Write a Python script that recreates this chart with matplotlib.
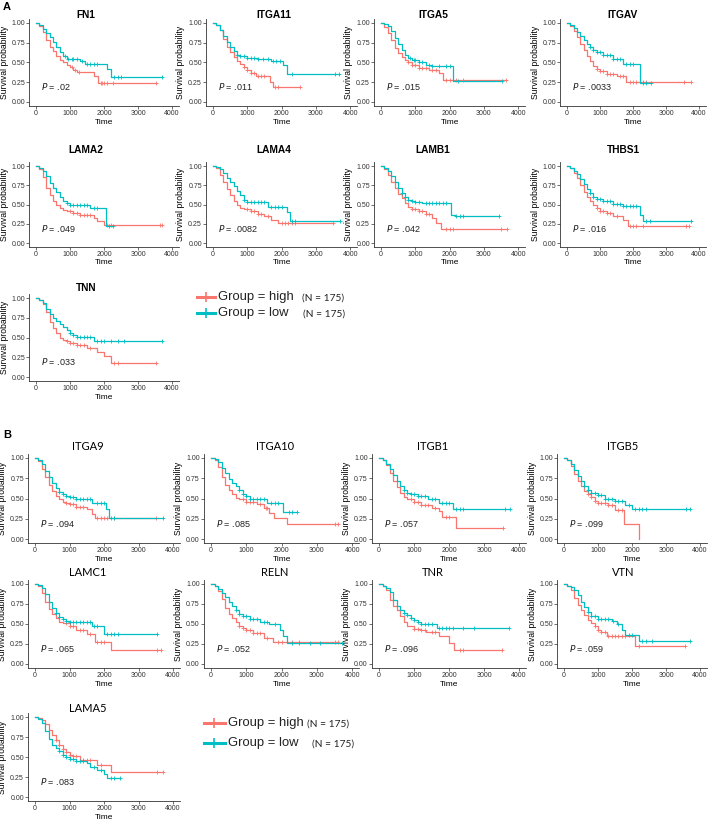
import matplotlib
matplotlib.use('Agg')
import matplotlib.pyplot as plt

# Kaplan-Meier step points (time, survival) and censor times
FN1_HIGH = [(0, 1.0), (100, 0.96), (200, 0.88), (300, 0.79), (400, 0.70), (500, 0.64), (600, 0.58), (700, 0.53),
            (800, 0.50), (900, 0.47), (1000, 0.44), (1100, 0.41), (1200, 0.38), (1700, 0.33), (1820, 0.235)]
FN1_HIGH_CENS = [1050, 1150, 1250, 1900, 1950, 2000, 2100, 2250, 3520]
FN1_LOW = [(0, 1.0), (100, 0.97), (200, 0.92), (300, 0.87), (400, 0.82), (500, 0.76), (600, 0.69), (700, 0.63),
           (800, 0.58), (900, 0.55), (1000, 0.54), (1300, 0.52), (1450, 0.48), (2080, 0.42), (2200, 0.32)]
FN1_LOW_CENS = [850, 950, 1050, 1100, 1200, 1350, 1500, 1600, 1700, 1800, 2300, 2400, 2500, 3700]

ITGA11_HIGH = [(0, 1.0), (100, 0.97), (200, 0.91), (300, 0.80), (400, 0.70), (500, 0.63), (600, 0.57), (700, 0.52),
               (800, 0.48), (900, 0.44), (1000, 0.41), (1100, 0.37), (1250, 0.33), (1650, 0.25), (1750, 0.19)]
ITGA11_HIGH_CENS = [900, 1000, 1100, 1200, 1300, 1400, 1500, 1800, 1900, 2550]
ITGA11_LOW = [(0, 1.0), (100, 0.97), (200, 0.91), (300, 0.83), (400, 0.76), (500, 0.70), (600, 0.64), (700, 0.60),
              (800, 0.58), (1000, 0.56), (1300, 0.54), (1700, 0.52), (2050, 0.47), (2150, 0.35)]
ITGA11_LOW_CENS = [700, 800, 900, 1000, 1100, 1200, 1300, 1450, 1600, 1750, 1850, 1950, 2300, 3550, 3680]

ITGA5_HIGH = [(0, 1.0), (100, 0.95), (200, 0.87), (300, 0.78), (400, 0.68), (500, 0.62), (600, 0.57), (700, 0.53),
              (800, 0.50), (900, 0.47), (1100, 0.43), (1400, 0.41), (1700, 0.37), (1800, 0.28)]
ITGA5_HIGH_CENS = [800, 900, 1000, 1100, 1200, 1300, 1500, 1600, 1900, 2000, 2200, 2400, 3650]
ITGA5_LOW = [(0, 1.0), (100, 0.99), (200, 0.96), (300, 0.90), (400, 0.81), (500, 0.73), (600, 0.66), (700, 0.60),
             (800, 0.56), (900, 0.53), (1100, 0.50), (1300, 0.47), (1500, 0.45), (2100, 0.27)]
ITGA5_LOW_CENS = [850, 950, 1000, 1100, 1200, 1400, 1500, 1700, 1900, 2000, 2250, 3530]

ITGAV_HIGH = [(0, 1.0), (100, 0.96), (200, 0.90), (300, 0.82), (400, 0.74), (500, 0.66), (600, 0.58), (700, 0.52),
              (800, 0.46), (900, 0.42), (1000, 0.39), (1200, 0.36), (1500, 0.33), (1800, 0.25)]
ITGAV_HIGH_CENS = [900, 1000, 1100, 1200, 1300, 1400, 1600, 1700, 1900, 2000, 2100, 2300, 2400, 3550, 3750]
ITGAV_LOW = [(0, 1.0), (100, 0.98), (200, 0.94), (300, 0.89), (400, 0.84), (500, 0.78), (600, 0.73), (700, 0.69),
             (800, 0.66), (900, 0.63), (1100, 0.59), (1400, 0.55), (1700, 0.48), (2200, 0.245)]
ITGAV_LOW_CENS = [700, 800, 900, 1000, 1100, 1200, 1300, 1400, 1500, 1600, 1800, 1900, 2000, 2300, 2400, 2550]

LAMA2_HIGH = [(0, 1.0), (100, 0.96), (200, 0.86), (300, 0.72), (400, 0.62), (500, 0.55), (600, 0.50), (700, 0.45),
              (800, 0.43), (900, 0.41), (1100, 0.39), (1300, 0.36), (1700, 0.33), (1800, 0.28), (2000, 0.23)]
LAMA2_HIGH_CENS = [1000, 1100, 1200, 1300, 1400, 1500, 1600, 2100, 2200, 3650, 3700]
LAMA2_LOW = [(0, 1.0), (100, 0.98), (200, 0.94), (300, 0.87), (400, 0.78), (500, 0.72), (600, 0.66), (700, 0.60),
             (800, 0.55), (900, 0.52), (1000, 0.50), (1600, 0.46), (2050, 0.22)]
LAMA2_LOW_CENS = [900, 1000, 1100, 1200, 1300, 1400, 1500, 1700, 1800, 2150, 2250]

LAMA4_HIGH = [(0, 1.0), (100, 0.97), (200, 0.88), (300, 0.79), (400, 0.70), (500, 0.62), (600, 0.55), (700, 0.50),
              (800, 0.46), (900, 0.44), (1100, 0.41), (1300, 0.38), (1500, 0.35), (1700, 0.30), (1900, 0.26)]
LAMA4_HIGH_CENS = [1000, 1100, 1200, 1300, 1400, 1600, 2000, 2100, 2200, 2300, 2400, 3500]
LAMA4_LOW = [(0, 1.0), (100, 0.99), (200, 0.96), (300, 0.91), (400, 0.85), (500, 0.79), (600, 0.74), (700, 0.68),
             (800, 0.62), (900, 0.56), (1000, 0.53), (1600, 0.47), (2150, 0.40), (2250, 0.28)]
LAMA4_LOW_CENS = [900, 1000, 1100, 1200, 1300, 1400, 1500, 1700, 1800, 1900, 2000, 2300, 2400, 3700]

LAMB1_HIGH = [(0, 1.0), (100, 0.96), (200, 0.88), (300, 0.79), (400, 0.71), (500, 0.64), (600, 0.58), (700, 0.52),
              (800, 0.47), (900, 0.44), (1100, 0.41), (1300, 0.38), (1500, 0.32), (1600, 0.26), (1750, 0.18)]
LAMB1_HIGH_CENS = [900, 1000, 1100, 1200, 1300, 1400, 1900, 2000, 2100, 3500, 3670]
LAMB1_LOW = [(0, 1.0), (100, 0.98), (200, 0.94), (300, 0.87), (400, 0.79), (500, 0.72), (600, 0.65), (700, 0.60),
             (800, 0.56), (900, 0.54), (1000, 0.53), (1200, 0.515), (2050, 0.37), (2150, 0.35)]
LAMB1_LOW_CENS = [600, 700, 800, 900, 1000, 1100, 1300, 1400, 1500, 1600, 1700, 1800, 1900, 2200, 2300, 2400, 3450]

THBS1_HIGH = [(0, 1.0), (100, 0.97), (200, 0.91), (300, 0.84), (400, 0.75), (500, 0.66), (600, 0.60), (700, 0.55),
              (800, 0.50), (900, 0.45), (1000, 0.42), (1200, 0.39), (1400, 0.35), (1700, 0.30), (1850, 0.22)]
THBS1_HIGH_CENS = [900, 1000, 1100, 1200, 1300, 1500, 1900, 2000, 2100, 2300, 3600, 3700]
THBS1_LOW = [(0, 1.0), (100, 0.98), (200, 0.94), (300, 0.89), (400, 0.83), (500, 0.76), (600, 0.70), (700, 0.65),
             (800, 0.60), (900, 0.57), (1100, 0.54), (1400, 0.51), (1700, 0.48), (2200, 0.36), (2300, 0.29)]
THBS1_LOW_CENS = [700, 800, 900, 1000, 1100, 1200, 1300, 1400, 1500, 1600, 1700, 1800, 1900, 2000, 2100, 2400,
                  2500, 3750]

TNN_HIGH = [(0, 1.0), (100, 0.97), (200, 0.93), (300, 0.82), (400, 0.70), (500, 0.62), (600, 0.56), (700, 0.50),
            (800, 0.47), (900, 0.45), (1000, 0.43), (1200, 0.41), (1500, 0.37), (1800, 0.32), (2000, 0.27),
            (2200, 0.18)]
TNN_HIGH_CENS = [900, 1000, 1100, 1200, 1300, 1400, 1600, 2300, 2400, 3520]
TNN_LOW = [(0, 1.0), (100, 0.98), (200, 0.94), (300, 0.86), (400, 0.80), (500, 0.75), (600, 0.71), (700, 0.67),
           (800, 0.63), (900, 0.60), (1000, 0.56), (1100, 0.53), (1200, 0.51), (1700, 0.45)]
TNN_LOW_CENS = [1000, 1100, 1200, 1300, 1400, 1500, 1600, 1800, 1900, 2000, 2200, 2400, 2600, 3700]

ITGA9_HIGH = [(0, 1.0), (100, 0.96), (200, 0.87), (300, 0.77), (400, 0.67), (500, 0.59), (600, 0.53), (700, 0.49),
              (800, 0.46), (900, 0.44), (1000, 0.43), (1200, 0.40), (1500, 0.37), (1650, 0.31), (1750, 0.26)]
ITGA9_HIGH_CENS = [900, 1000, 1100, 1200, 1300, 1400, 1800, 1900, 2000, 2100, 2300, 3500]
ITGA9_LOW = [(0, 1.0), (100, 0.98), (200, 0.92), (300, 0.84), (400, 0.77), (500, 0.69), (600, 0.63), (700, 0.58),
             (800, 0.55), (900, 0.53), (1000, 0.52), (1200, 0.49), (1650, 0.44), (2050, 0.37), (2150, 0.26)]
ITGA9_LOW_CENS = [700, 800, 900, 1000, 1100, 1200, 1300, 1400, 1500, 1600, 1800, 1900, 2000, 2200, 2300, 3720]

ITGA10_HIGH = [(0, 1.0), (100, 0.97), (200, 0.89), (300, 0.77), (400, 0.67), (500, 0.60), (600, 0.55), (700, 0.51),
               (800, 0.49), (1000, 0.46), (1300, 0.43), (1500, 0.38), (1650, 0.32), (1780, 0.26), (2150, 0.19)]
ITGA10_HIGH_CENS = [900, 1000, 1100, 1200, 1400, 1550, 1600, 3500, 3600]
ITGA10_LOW = [(0, 1.0), (100, 0.99), (200, 0.95), (300, 0.88), (400, 0.81), (500, 0.74), (600, 0.69), (700, 0.65),
              (800, 0.60), (900, 0.56), (1000, 0.53), (1100, 0.50), (1600, 0.45), (2050, 0.33)]
ITGA10_LOW_CENS = [800, 900, 1000, 1100, 1200, 1300, 1400, 1500, 1700, 1800, 1900, 2200, 2300, 2450]

ITGB1_HIGH = [(0, 1.0), (100, 0.98), (200, 0.91), (300, 0.82), (400, 0.72), (500, 0.64), (600, 0.57), (700, 0.52),
              (800, 0.49), (1000, 0.46), (1200, 0.42), (1500, 0.38), (1700, 0.34), (1800, 0.27), (2200, 0.13)]
ITGB1_HIGH_CENS = [900, 1000, 1100, 1200, 1300, 1400, 1600, 1900, 2000, 3530]
ITGB1_LOW = [(0, 1.0), (100, 0.98), (200, 0.93), (300, 0.86), (400, 0.79), (500, 0.72), (600, 0.66), (700, 0.61),
             (800, 0.57), (900, 0.55), (1100, 0.53), (1400, 0.49), (1700, 0.44), (2100, 0.37)]
ITGB1_LOW_CENS = [700, 800, 900, 1000, 1100, 1200, 1300, 1500, 1600, 1800, 1900, 2000, 2200, 2300, 2400, 3600, 3730]

ITGB5_HIGH = [(0, 1.0), (100, 0.98), (200, 0.90), (300, 0.80), (400, 0.72), (500, 0.66), (600, 0.59), (700, 0.55),
              (800, 0.52), (900, 0.47), (1000, 0.45), (1300, 0.42), (1500, 0.36), (1750, 0.18), (2200, 0.0)]
ITGB5_HIGH_CENS = [700, 800, 900, 1000, 1100, 1200, 1300, 1400, 1600, 1700]
ITGB5_LOW = [(0, 1.0), (100, 0.97), (200, 0.92), (300, 0.85), (400, 0.78), (500, 0.71), (600, 0.65), (700, 0.60),
             (800, 0.57), (1000, 0.54), (1200, 0.50), (1500, 0.47), (1800, 0.42), (2000, 0.37)]
ITGB5_LOW_CENS = [600, 700, 800, 900, 1000, 1100, 1200, 1300, 1400, 1500, 1600, 1700, 1900, 2100, 2200, 2300,
                  2400, 3600, 3720]

LAMC1_HIGH = [(0, 1.0), (100, 0.97), (200, 0.89), (300, 0.78), (400, 0.69), (500, 0.62), (600, 0.57), (700, 0.53),
              (800, 0.51), (1000, 0.47), (1200, 0.42), (1500, 0.37), (1750, 0.28), (2200, 0.18)]
LAMC1_HIGH_CENS = [900, 1000, 1100, 1300, 1400, 1600, 1800, 1900, 2000, 3550, 3650]
LAMC1_LOW = [(0, 1.0), (100, 0.99), (200, 0.95), (300, 0.88), (400, 0.78), (500, 0.70), (600, 0.64), (700, 0.59),
             (800, 0.56), (900, 0.54), (1000, 0.52), (1650, 0.47), (2000, 0.37)]
LAMC1_LOW_CENS = [600, 700, 800, 900, 1000, 1100, 1200, 1300, 1400, 1500, 1600, 1700, 1800, 2100, 2200, 2300,
                  2400, 3550]

RELN_HIGH = [(0, 1.0), (100, 0.97), (200, 0.91), (300, 0.81), (400, 0.70), (500, 0.63), (600, 0.57), (700, 0.52),
             (800, 0.48), (900, 0.45), (1000, 0.42), (1200, 0.39), (1500, 0.33), (1750, 0.275)]
RELN_HIGH_CENS = [800, 900, 1000, 1100, 1200, 1300, 1400, 1600, 1900, 2000, 2300, 2500, 3500, 3600]
RELN_LOW = [(0, 1.0), (100, 0.98), (200, 0.94), (300, 0.89), (400, 0.84), (500, 0.78), (600, 0.72), (700, 0.67),
            (800, 0.63), (900, 0.60), (1100, 0.56), (1400, 0.53), (1650, 0.50), (1950, 0.43), (2050, 0.35),
            (2150, 0.26)]
RELN_LOW_CENS = [700, 800, 900, 1000, 1100, 1200, 1300, 1500, 1600, 1800, 2300, 2500, 2800, 3100, 3720]

TNR_HIGH = [(0, 1.0), (100, 0.98), (200, 0.92), (300, 0.80), (400, 0.72), (500, 0.67), (600, 0.60), (700, 0.53),
            (800, 0.48), (1000, 0.44), (1200, 0.43), (1350, 0.40), (1700, 0.35), (2000, 0.26), (2150, 0.17)]
TNR_HIGH_CENS = [1000, 1100, 1200, 1300, 1500, 1600, 2300, 2400, 3520]
TNR_LOW = [(0, 1.0), (100, 0.98), (200, 0.95), (300, 0.90), (400, 0.80), (500, 0.72), (600, 0.68), (700, 0.64),
           (800, 0.61), (900, 0.58), (1000, 0.55), (1100, 0.52), (1200, 0.50), (1650, 0.45)]
TNR_LOW_CENS = [700, 800, 900, 1000, 1100, 1200, 1300, 1400, 1500, 1700, 1800, 1900, 2000, 2100, 2400, 2700, 3700]

VTN_HIGH = [(0, 1.0), (100, 0.98), (200, 0.92), (300, 0.82), (400, 0.74), (500, 0.67), (600, 0.61), (700, 0.55),
            (800, 0.51), (900, 0.47), (1000, 0.43), (1100, 0.40), (1250, 0.35), (2100, 0.23)]
VTN_HIGH_CENS = [900, 1000, 1100, 1200, 1300, 1400, 1500, 1600, 1700, 1800, 2200, 3550]
VTN_LOW = [(0, 1.0), (100, 0.98), (200, 0.96), (300, 0.92), (400, 0.86), (500, 0.78), (600, 0.71), (700, 0.65),
           (800, 0.60), (1000, 0.56), (1400, 0.54), (1550, 0.50), (1700, 0.43), (1800, 0.36), (2200, 0.285)]
VTN_LOW_CENS = [700, 800, 900, 1000, 1100, 1200, 1300, 1450, 1600, 1900, 2000, 2300, 2400, 2600, 3720]

LAMA5_HIGH = [(0, 1.0), (100, 0.99), (200, 0.96), (300, 0.91), (400, 0.84), (500, 0.77), (600, 0.71), (700, 0.65),
              (800, 0.60), (900, 0.56), (1000, 0.53), (1100, 0.51), (1300, 0.46), (1800, 0.40), (2200, 0.31)]
LAMA5_HIGH_CENS = [600, 700, 800, 900, 1000, 1100, 1200, 1400, 1500, 1600, 1900, 3550, 3700]
LAMA5_LOW = [(0, 1.0), (100, 0.97), (200, 0.93), (300, 0.83), (400, 0.72), (500, 0.65), (600, 0.61), (700, 0.57),
             (800, 0.53), (900, 0.50), (1000, 0.47), (1200, 0.45), (1500, 0.42), (1600, 0.38), (1800, 0.34),
             (2000, 0.29), (2100, 0.24)]
LAMA5_LOW_CENS = [700, 800, 900, 1000, 1100, 1200, 1300, 1400, 1700, 1900, 2200, 2300, 2450]

GENES_A = ['FN1', 'ITGA11', 'ITGA5', 'ITGAV', 'LAMA2', 'LAMA4', 'LAMB1', 'THBS1', 'TNN']
PVALS_A = ['.02', '.011', '.015', '.0033', '.049', '.0082', '.042', '.016', '.033']
GENES_B = ['ITGA9', 'ITGA10', 'ITGB1', 'ITGB5', 'LAMC1', 'RELN', 'TNR', 'VTN', 'LAMA5']
PVALS_B = ['.094', '.085', '.057', '.099', '.065', '.052', '.096', '.059', '.083']

XTICKS = [0, 1000, 2000, 3000, 4000]
YTICKS = [0.0, 0.25, 0.5, 0.75, 1.0]
YTICK_LABELS = ['0.00', '0.25', '0.50', '0.75', '1.00']
LEGEND_LABELS = ['Group = high', 'Group = low']
LEGEND_N = ['(N = 175)', '(N = 175)']

CURVES = {
    'FN1': (FN1_HIGH, FN1_HIGH_CENS, FN1_LOW, FN1_LOW_CENS),
    'ITGA11': (ITGA11_HIGH, ITGA11_HIGH_CENS, ITGA11_LOW, ITGA11_LOW_CENS),
    'ITGA5': (ITGA5_HIGH, ITGA5_HIGH_CENS, ITGA5_LOW, ITGA5_LOW_CENS),
    'ITGAV': (ITGAV_HIGH, ITGAV_HIGH_CENS, ITGAV_LOW, ITGAV_LOW_CENS),
    'LAMA2': (LAMA2_HIGH, LAMA2_HIGH_CENS, LAMA2_LOW, LAMA2_LOW_CENS),
    'LAMA4': (LAMA4_HIGH, LAMA4_HIGH_CENS, LAMA4_LOW, LAMA4_LOW_CENS),
    'LAMB1': (LAMB1_HIGH, LAMB1_HIGH_CENS, LAMB1_LOW, LAMB1_LOW_CENS),
    'THBS1': (THBS1_HIGH, THBS1_HIGH_CENS, THBS1_LOW, THBS1_LOW_CENS),
    'TNN': (TNN_HIGH, TNN_HIGH_CENS, TNN_LOW, TNN_LOW_CENS),
    'ITGA9': (ITGA9_HIGH, ITGA9_HIGH_CENS, ITGA9_LOW, ITGA9_LOW_CENS),
    'ITGA10': (ITGA10_HIGH, ITGA10_HIGH_CENS, ITGA10_LOW, ITGA10_LOW_CENS),
    'ITGB1': (ITGB1_HIGH, ITGB1_HIGH_CENS, ITGB1_LOW, ITGB1_LOW_CENS),
    'ITGB5': (ITGB5_HIGH, ITGB5_HIGH_CENS, ITGB5_LOW, ITGB5_LOW_CENS),
    'LAMC1': (LAMC1_HIGH, LAMC1_HIGH_CENS, LAMC1_LOW, LAMC1_LOW_CENS),
    'RELN': (RELN_HIGH, RELN_HIGH_CENS, RELN_LOW, RELN_LOW_CENS),
    'TNR': (TNR_HIGH, TNR_HIGH_CENS, TNR_LOW, TNR_LOW_CENS),
    'VTN': (VTN_HIGH, VTN_HIGH_CENS, VTN_LOW, VTN_LOW_CENS),
    'LAMA5': (LAMA5_HIGH, LAMA5_HIGH_CENS, LAMA5_LOW, LAMA5_LOW_CENS),
}

RED = '#F8766D'
TEAL = '#00BFC4'
W, H = 709, 819

# layout in pixels: x of time 0, px per time unit, title centre x
COLS_A = [(36, 0.0340, 86), (213, 0.0343, 274), (381, 0.0343, 433), (567, 0.0330, 623)]
COLS_B = [(35, 0.0345, 88), (211, 0.0353, 275), (379, 0.0350, 433), (564, 0.0340, 623)]
# y of 1.00, y of 0.00, title y
ROWS_A = [(23, 102, 15), (166, 243, 150), (298, 377, 288)]
ROWS_B = [(458, 539, 447), (584, 664, 573), (717, 797, 708)]

plt.rcParams['font.family'] = ['Liberation Sans', 'DejaVu Sans']


def fx(x):
    return x / W


def fy(y):
    return 1 - y / H


def surv_at(curve, t):
    s = 1.0
    for ti, si in curve:
        if ti <= t:
            s = si
    return s


def draw_curve(ax, curve, cens, color):
    ts = [p[0] for p in curve]
    ss = [p[1] for p in curve]
    end = max([ts[-1]] + cens)
    ax.step(ts + [end], ss + [ss[-1]], where='post', color=color, lw=0.9)
    ax.plot(cens, [surv_at(curve, c) for c in cens], ls='none', marker='+', ms=3.4, mew=0.6, color=color)


def panel(fig, gene, pval, col, row, bold):
    x0, k, tx = col
    y1, y0, ty = row
    span = y0 - y1
    left = x0 - 200 * k
    top = y1 - 0.05 * span
    bottom = y0 + 0.05 * span
    ax = fig.add_axes([fx(left), fy(bottom), 4400 * k / W, (bottom - top) / H])
    high, high_c, low, low_c = CURVES[gene]
    draw_curve(ax, high, high_c, RED)
    draw_curve(ax, low, low_c, TEAL)
    ax.set_xlim(-200, 4200)
    ax.set_ylim(-0.05, 1.05)
    ax.set_xticks(XTICKS)
    ax.set_yticks(YTICKS)
    ax.set_yticklabels(YTICK_LABELS)
    for s in ['top', 'right']:
        ax.spines[s].set_visible(False)
    for s in ['left', 'bottom']:
        ax.spines[s].set_linewidth(0.6)
        ax.spines[s].set_color('#333333')
    ax.tick_params(labelsize=5, length=2, width=0.5, pad=1, colors='#333333', labelcolor='#333333')
    ax.set_ylabel('Survival probability', fontsize=6.2, labelpad=2)
    ax.set_xlabel('Time', fontsize=6, labelpad=1)
    ax.text(150, 0.19, r'$\it{P}$ = ' + pval, fontsize=6.5, va='center', ha='left', color='#222222')
    if bold:
        fig.text(fx(tx), fy(ty), gene, fontsize=7.3, fontweight='bold', ha='center', va='center')
    else:
        fig.text(fx(tx), fy(ty), gene, fontsize=8, ha='center', va='center', family=['Lato', 'DejaVu Sans'])
    return ax


def legend(fig, x_line, x_text, x_n, y_rows):
    for color, label, n, (y, xn) in zip([RED, TEAL], LEGEND_LABELS, LEGEND_N, zip(y_rows, x_n)):
        fig.add_artist(plt.Line2D([fx(x_line[0]), fx(x_line[1])], [fy(y), fy(y)], color=color, lw=2.2))
        fig.add_artist(plt.Line2D([fx((x_line[0] + x_line[1]) / 2)], [fy(y)], color=color, marker='|',
                                  ms=7, mew=1.2))
        fig.text(fx(x_text), fy(y), label, fontsize=9.4, va='center', ha='left', color='#222222')
        fig.text(fx(xn), fy(y + 1.5), n, fontsize=7.3, va='center', ha='left', color='#222222',
                 family=['Lato', 'DejaVu Sans'])


fig = plt.figure(figsize=(W / 100, H / 100), dpi=100)

for i, (gene, p) in enumerate(zip(GENES_A, PVALS_A)):
    panel(fig, gene, p, COLS_A[i % 4], ROWS_A[i // 4], True)
for i, (gene, p) in enumerate(zip(GENES_B, PVALS_B)):
    panel(fig, gene, p, COLS_B[i % 4], ROWS_B[i // 4], False)

legend(fig, (197, 215), 218, (302, 303), (297, 313))
legend(fig, (204, 225), 228, (307, 312), (723, 743))

fig.text(fx(3), fy(7), 'A', fontsize=8, fontweight='bold', va='center', ha='left')
fig.text(fx(3), fy(435), 'B', fontsize=8, fontweight='bold', va='center', ha='left')

fig.savefig('out.png', dpi=100)
